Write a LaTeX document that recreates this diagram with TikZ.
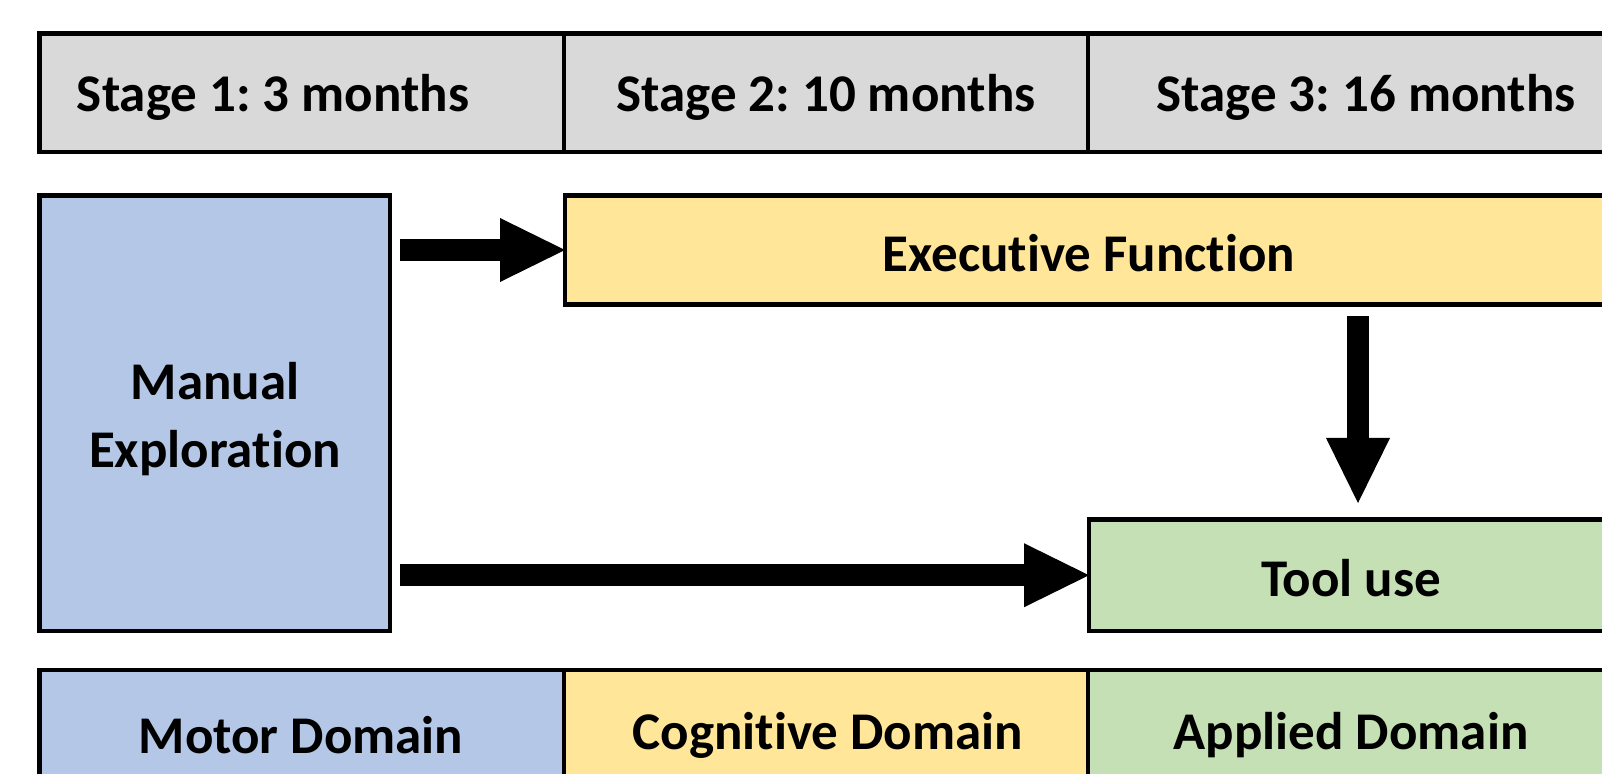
\documentclass[tikz,border=0pt]{standalone}
\usepackage{fontspec}
\setmainfont[Ligatures={NoCommon}]{Carlito}
\usetikzlibrary{arrows.meta}
\definecolor{cgray}{HTML}{D9D9D9}
\definecolor{cblue}{HTML}{B4C7E7}
\definecolor{cyellow}{HTML}{FFE699}
\definecolor{cgreen}{HTML}{C5E0B4}
\frenchspacing
\tikzset{
  cell/.style={draw=black, line width=2.4pt, inner sep=0pt, outer sep=0pt, font=\bfseries\fontsize{26.5}{31}\selectfont},
  txt/.style={inner sep=0pt, font=\bfseries\fontsize{26.5}{31}\selectfont},
  bigarrow/.style={line width=11pt, -{Triangle[length=32.5pt, width=32pt, line width=0pt]}},
}
\begin{document}
\begin{tikzpicture}[x=0.5pt, y=-0.5pt]
\useasboundingbox (0,0) rectangle (1602,774);
\clip (0,0) rectangle (1602,774);
% top row
\node[cell, fill=cgray, minimum width=262.25pt, minimum height=59.25pt] (s1) at (301.75,92.75) {};
\node[cell, fill=cgray, minimum width=262pt, minimum height=59.25pt] (s2) at (826,92.75) {};
\node[cell, fill=cgray, minimum width=262pt, minimum height=59.25pt] (s3) at (1350,92.75) {};
\node[txt] (t1) at (273,97) {Stage 1: 3 months};
\node[txt] (t2) at (826,97) {Stage 2: 10 months};
\node[txt] (t3) at (1366,97) {Stage 3: 16 months};
% middle boxes
\node[cell, fill=cblue, minimum width=175.25pt, minimum height=217.75pt] (man) at (214.75,413.25) {};
\node[txt, align=center] (mt) at (215,419) {Manual\\[3pt]Exploration};
\node[cell, fill=cyellow, minimum width=523.5pt, minimum height=54.5pt] (exec) at (1088.5,250) {};
\node[txt] (et) at (1089,253) {Executive Function};
\node[cell, fill=cgreen, minimum width=261.5pt, minimum height=55.75pt] (tool) at (1350.5,575.25) {};
\node[txt] (tt) at (1351,578) {Tool use};
% bottom row
\node[cell, fill=cblue, minimum width=262.25pt, minimum height=60pt] (d1) at (301.75,730) {};
\node[cell, fill=cyellow, minimum width=262pt, minimum height=60pt] (d2) at (826,730) {};
\node[cell, fill=cgreen, minimum width=262pt, minimum height=60pt] (d3) at (1350,730) {};
\node[txt] (m1) at (301,735) {Motor Domain};
\node[txt] (m2) at (828,735) {Cognitive Domain};
\node[txt] (m3) at (1351,735) {Applied Domain};
% arrows
\coordinate (a1) at (400,250);
\coordinate (a2) at (400,575.25);
\coordinate (v1) at (1358,316);
\coordinate (v2) at (1358,503);
\draw[bigarrow] (a1) -- (exec.west);
\draw[bigarrow] (a2) -- (tool.west);
\draw[bigarrow] (v1) -- (v2);
\end{tikzpicture}
\end{document}
